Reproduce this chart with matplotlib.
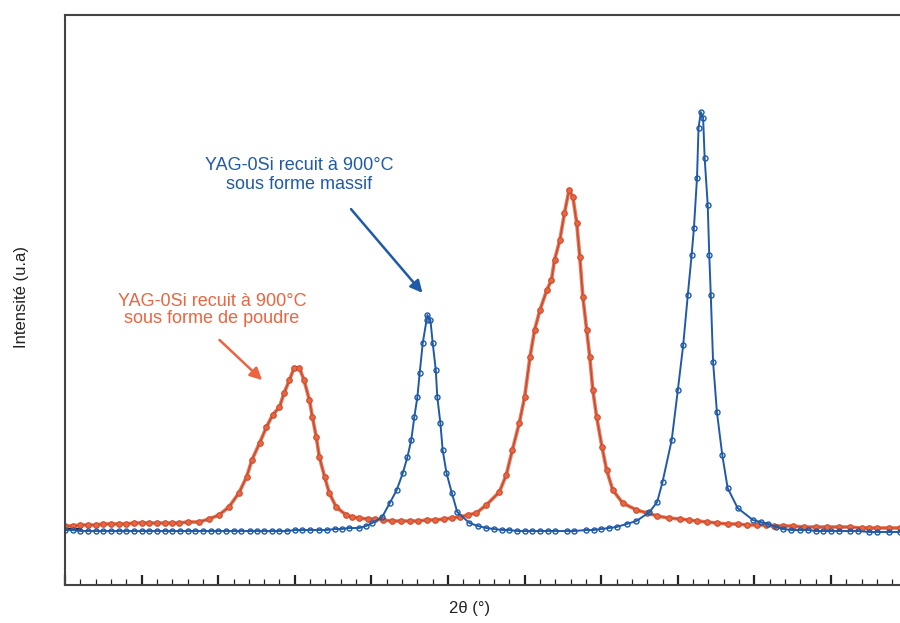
import numpy as np
import matplotlib.pyplot as plt
from matplotlib.ticker import MultipleLocator

plt.rcParams['font.family'] = ['Liberation Sans', 'DejaVu Sans']

# YAG-0Si powder (red)
two_theta_poudre = [20.00, 20.10, 20.20, 20.30, 20.40, 20.50, 20.60, 20.71, 20.80, 20.90,
                    21.00, 21.10, 21.20, 21.30, 21.40, 21.49, 21.60, 21.75, 21.88, 22.01,
                    22.14, 22.27, 22.37, 22.44, 22.54, 22.63, 22.71, 22.80, 22.86, 22.93,
                    22.99, 23.06, 23.12, 23.19, 23.23, 23.28, 23.32, 23.39, 23.45, 23.54,
                    23.67, 23.75, 23.84, 23.95, 24.05, 24.15, 24.27, 24.38, 24.50, 24.61,
                    24.72, 24.83, 24.95, 25.05, 25.15, 25.26, 25.37, 25.50, 25.67, 25.76,
                    25.84, 25.93, 26.00, 26.07, 26.13, 26.20, 26.29, 26.35, 26.39, 26.46,
                    26.52, 26.58, 26.63, 26.68, 26.72, 26.76, 26.81, 26.85, 26.89, 26.94,
                    27.01, 27.07, 27.15, 27.28, 27.46, 27.60, 27.73, 27.88, 28.03, 28.14,
                    28.25, 28.38, 28.51, 28.65, 28.78, 28.90, 29.03, 29.15, 29.26, 29.37,
                    29.50, 29.65, 29.80, 29.95, 30.10, 30.25, 30.40, 30.50, 30.60, 30.75,
                    30.90]
int_poudre = [59, 59, 60, 60, 60, 61, 61, 61, 61, 62,
              62, 62, 62, 62, 62, 62, 63, 63, 66, 70,
              78, 92, 108, 125, 142, 158, 170, 178, 192, 205,
              217, 217, 205, 185, 168, 148, 128, 108, 92, 78,
              70, 68, 67, 66, 66, 65, 64, 64, 64, 64,
              65, 65, 66, 67, 68, 70, 72, 80, 93, 110,
              135, 162, 188, 228, 255, 275, 295, 305, 325, 345,
              372, 395, 388, 362, 328, 288, 255, 228, 195, 168,
              138, 115, 95, 82, 75, 72, 69, 67, 66, 65,
              64, 63, 62, 61, 61, 60, 60, 60, 59, 59,
              59, 58, 58, 58, 58, 58, 57, 57, 57, 57,
              57]

# YAG-0Si bulk (blue)
two_theta_massif = [20.00, 20.10, 20.20, 20.30, 20.40, 20.50, 20.60, 20.70, 20.80, 20.90,
                    21.00, 21.10, 21.20, 21.30, 21.40, 21.50, 21.60, 21.70, 21.80, 21.90,
                    22.00, 22.10, 22.20, 22.30, 22.41, 22.50, 22.60, 22.70, 22.80, 22.90,
                    23.00, 23.10, 23.20, 23.32, 23.42, 23.52, 23.61, 23.71, 23.84, 23.93,
                    24.01, 24.14, 24.24, 24.33, 24.41, 24.47, 24.52, 24.56, 24.60, 24.63,
                    24.67, 24.72, 24.73, 24.77, 24.80, 24.84, 24.86, 24.90, 24.93, 24.98,
                    25.05, 25.12, 25.28, 25.39, 25.50, 25.60, 25.71, 25.80, 25.90, 26.00,
                    26.10, 26.20, 26.30, 26.40, 26.55, 26.65, 26.80, 26.90, 27.00, 27.10,
                    27.20, 27.33, 27.46, 27.63, 27.73, 27.80, 27.92, 28.00, 28.07, 28.13,
                    28.18, 28.21, 28.25, 28.27, 28.30, 28.33, 28.35, 28.39, 28.41, 28.43,
                    28.46, 28.51, 28.58, 28.65, 28.78, 28.98, 29.08, 29.18, 29.28, 29.37,
                    29.48, 29.60, 29.70, 29.80, 29.90, 30.00, 30.10, 30.25, 30.35, 30.50,
                    30.60, 30.75, 30.90]
int_massif = [55, 55, 54, 54, 54, 54, 54, 54, 54, 54,
              54, 54, 54, 54, 54, 54, 54, 54, 54, 54,
              54, 54, 54, 54, 54, 54, 54, 54, 54, 54,
              55, 55, 55, 55, 55, 56, 56, 57, 57, 59,
              62, 68, 82, 95, 112, 128, 145, 168, 188, 212,
              242, 265, 270, 265, 242, 215, 188, 162, 135, 112,
              92, 73, 62, 59, 57, 56, 55, 55, 54, 54,
              54, 54, 54, 54, 54, 54, 55, 55, 56, 57,
              58, 61, 64, 73, 83, 103, 145, 195, 240, 290,
              330, 357, 407, 457, 473, 467, 427, 380, 330, 290,
              223, 173, 130, 97, 77, 65, 63, 61, 58, 56,
              55, 55, 55, 54, 54, 54, 54, 54, 54, 53,
              53, 53, 53]

red = '#ec6440'
blue = '#1f5aa8'

fig = plt.figure(figsize=(9, 6.23), dpi=100)
ax = fig.add_axes([65 / 900, 1 - 585 / 623, 1 - 65 / 900, (585 - 15) / 623])

ax.plot(two_theta_poudre, int_poudre, color=red, lw=2.6, alpha=0.9)
ax.plot(two_theta_poudre, int_poudre, color='#b84a32', lw=0.9, marker='o', ms=4,
        mfc=red, mec='#c85030', mew=0.8)
ax.plot(two_theta_massif, int_massif, color=blue, lw=1.4, marker='o', ms=3.6,
        mfc='none', mec=blue, mew=1.0)

ax.set_xlim(20, 30.9)
ax.set_ylim(0, 570)

ax.xaxis.set_major_locator(MultipleLocator(1))
ax.xaxis.set_minor_locator(MultipleLocator(0.2))
ax.tick_params(axis='x', which='major', direction='in', length=7, width=1.6, color='#222222', labelbottom=False)
ax.tick_params(axis='x', which='minor', direction='in', length=4, width=0.9, color='#222222')
ax.set_yticks([56])
ax.tick_params(axis='y', direction='in', length=12, width=1.6, color='#222222', labelleft=False)

for s in ['left', 'top', 'bottom']:
    ax.spines[s].set_color('#444444')
    ax.spines[s].set_linewidth(1.5)
ax.spines['right'].set_visible(False)

fig.text(22 / 900, 1 - 297 / 623, 'Intensité (u.a)', rotation=90, ha='center', va='center',
         fontsize=12, color='#222222')
fig.text(470 / 900, 1 - 609 / 623, '2θ (°)', ha='center', va='center', fontsize=12, color='#222222')

ax.text(23.06, 410, 'YAG-0Si recuit à 900°C\nsous forme massif', ha='center', va='center',
        color=blue, fontsize=13, linespacing=1.2)
ax.annotate('', xy=(24.69, 290), xytext=(23.71, 378),
            arrowprops=dict(arrowstyle='-|>', color=blue, lw=1.8, mutation_scale=18))

ax.text(21.92, 275, 'YAG-0Si recuit à 900°C\nsous forme de poudre', ha='center', va='center',
        color=red, fontsize=13, linespacing=1.05)
ax.annotate('', xy=(22.60, 203), xytext=(21.99, 247),
            arrowprops=dict(arrowstyle='-|>', color=red, lw=1.8, mutation_scale=18))

fig.savefig('out.png', dpi=100)
